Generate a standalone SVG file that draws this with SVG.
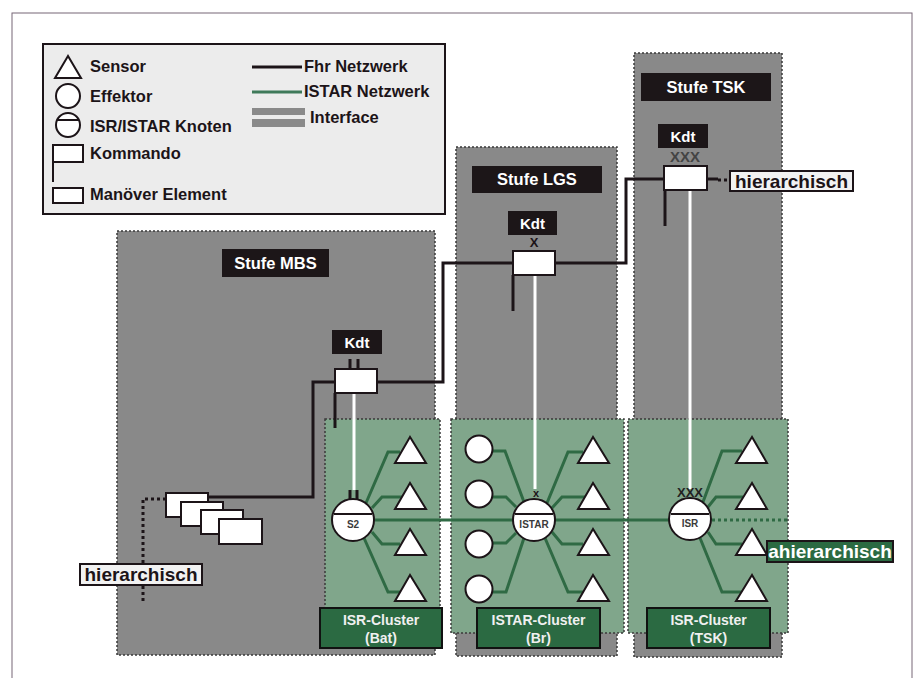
<svg xmlns="http://www.w3.org/2000/svg" width="915" height="678" viewBox="0 0 915 678">
<defs>
<style>
text{font-family:"Liberation Sans",Arial,sans-serif;font-weight:bold}
.panel{fill:#898989;stroke:#3a3a3a;stroke-width:1.5;stroke-dasharray:2 2}
.cluster{fill:#80a68b;stroke:#3a3a3a;stroke-width:1.5;stroke-dasharray:2 2}
.title{fill:#1c1618}
.tt{fill:#fff;font-size:16.5px;text-anchor:middle}
.kt{fill:#fff;font-size:15px;text-anchor:middle}
.fhr{fill:none;stroke:#1c1418;stroke-width:3}
.ifc{fill:none;stroke:#fff;stroke-width:3}
.net{fill:none;stroke:#2f6a44;stroke-width:3}
.sym{fill:#fff;stroke:#1c1418;stroke-width:2}
.leg{font-size:16.5px;fill:#1c1418}
.clab{fill:#2b6a42;stroke:#111;stroke-width:2}
.clt{fill:#f0f0f0;font-size:14px;text-anchor:middle}
.nl{fill:#3a3a3a;font-size:10px;text-anchor:middle}
.hb{fill:#f2f2f2;stroke:#1c1418;stroke-width:2}
.ht{font-size:19px;fill:#1c1418;text-anchor:middle}
.dot{fill:none;stroke:#1c1418;stroke-width:3;stroke-dasharray:3 3}
</style>
</defs>
<rect x="0" y="0" width="915" height="678" fill="#fff"/>
<rect x="12" y="13" width="900" height="700" fill="none" stroke="#776677" stroke-width="1"/>

<g id="legend">
<rect x="43" y="44" width="402" height="170" fill="#ececec" stroke="#1c1418" stroke-width="2"/>
<polygon class="sym" points="68,56 55,78 81,78"/>
<text class="leg" x="90" y="72">Sensor</text>
<circle class="sym" cx="68" cy="96" r="12"/>
<text class="leg" x="90" y="102">Effektor</text>
<circle class="sym" cx="68" cy="125" r="12"/>
<line x1="57" y1="120" x2="79" y2="120" stroke="#1c1418" stroke-width="2"/>
<text class="leg" x="90" y="132">ISR/ISTAR Knoten</text>
<rect class="sym" x="53" y="145" width="30" height="17"/>
<line x1="53" y1="162" x2="53" y2="182" stroke="#1c1418" stroke-width="2"/>
<text class="leg" x="90" y="159">Kommando</text>
<rect class="sym" x="53" y="188" width="30" height="15"/>
<text class="leg" x="90" y="200">Manöver Element</text>
<line x1="252" y1="67" x2="302" y2="67" stroke="#1c1418" stroke-width="3"/>
<text class="leg" x="304" y="72">Fhr Netzwerk</text>
<line x1="252" y1="92" x2="302" y2="92" stroke="#3f7a5a" stroke-width="3"/>
<text class="leg" x="304" y="97">ISTAR Netzwerk</text>
<rect x="252" y="108" width="53" height="7" fill="#8a8a8a"/>
<rect x="252" y="119" width="53" height="8" fill="#8a8a8a"/>
<text class="leg" x="310" y="123">Interface</text>
</g>

<g id="panel-mbs">
<rect class="panel" x="117" y="231" width="318" height="424"/>
<rect class="title" x="222" y="249" width="107" height="28"/>
<text class="tt" x="275.5" y="269">Stufe MBS</text>
</g>
<g id="panel-lgs">
<rect class="panel" x="456" y="147" width="161" height="509"/>
<rect class="title" x="472" y="166" width="130" height="27"/>
<text class="tt" x="537" y="185">Stufe LGS</text>
</g>
<g id="panel-tsk">
<rect class="panel" x="634" y="53" width="148" height="604"/>
<rect class="title" x="641" y="73" width="130" height="28"/>
<text class="tt" x="706" y="93">Stufe TSK</text>
</g>

<g id="cluster-bat">
<rect class="cluster" x="325" y="419" width="115" height="214"/>
</g>
<g id="cluster-istar">
<rect class="cluster" x="451" y="419" width="173" height="214"/>
</g>
<g id="cluster-tsk">
<rect class="cluster" x="628" y="419" width="160" height="214"/>
</g>

<g id="connectors">
<path class="fhr" d="M208 497 H313 V382 H335"/>
<path class="fhr" d="M377 382 H443 V263 H513"/>
<path class="fhr" d="M555 263 H626 V179 H664"/>
<path class="fhr" d="M707 179 H718"/>
<path class="fhr" d="M335 393 V428"/>
<path class="fhr" d="M513 275 V311"/>
<path class="fhr" d="M665 190 V226"/>
<path class="fhr" d="M350 359 V369 M358 359 V369" stroke-width="2.5"/>
<path class="fhr" d="M350 490 V500 M357 490 V500" stroke-width="2.5"/>
<path class="dot" d="M718 180 H730" stroke-width="2.5"/>
<path class="dot" d="M166 499 H143 V564 M143 586 V602" stroke-width="3"/>
<path class="ifc" d="M354 393 V490"/>
<path class="ifc" d="M535 275 V489"/>
<path class="ifc" d="M690 190 V489"/>
<path class="net" d="M375 520 H669"/>
<path class="net" d="M712 520 H790" stroke-dasharray="3 3"/>
<path class="net" d="M366 503 L388 452 H400 M372 508 L382 497 H402 M372 532 L382 544 H400 M364 538 L388 592 H400"/>
<path class="net" d="M492 451 H505 L524 502 M492 497 H506 L516 507 M492 543 H506 L516 533 M492 592 H506 L524 538"/>
<path class="net" d="M547 503 L568 452 H583 M552 508 L562 497 H585 M552 532 L562 544 H583 M545 538 L568 592 H583"/>
<path class="net" d="M703 502 L722 451 H742 M708 507 L716 497 H743 M708 532 L716 544 H742 M700 538 L722 592 H742"/>
</g>

<g id="kdt-mbs">
<rect class="title" x="332" y="330" width="50" height="24"/>
<text class="kt" x="357" y="348">Kdt</text>
<rect class="sym" x="335" y="369" width="42" height="24"/>
</g>
<g id="kdt-lgs">
<rect class="title" x="508" y="211" width="49" height="24"/>
<text class="kt" x="532.5" y="229">Kdt</text>
<text x="534" y="247" font-size="13" fill="#1c1418" text-anchor="middle">X</text>
<rect class="sym" x="513" y="251" width="42" height="24"/>
</g>
<g id="kdt-tsk">
<rect class="title" x="658" y="124" width="50" height="24"/>
<text class="kt" x="683" y="142">Kdt</text>
<text x="685" y="162" font-size="15" fill="#444" text-anchor="middle" font-weight="normal">XXX</text>
<rect class="sym" x="664" y="166" width="43" height="24"/>
</g>

<g id="maneuver">
<rect class="sym" x="166" y="493" width="42" height="24"/>
<rect class="sym" x="181" y="502" width="42" height="24"/>
<rect class="sym" x="201" y="510" width="42" height="24"/>
<rect class="sym" x="219" y="519" width="43" height="25"/>
</g>

<g id="node-s2">
<circle class="sym" cx="353" cy="520" r="21"/>
<line x1="334" y1="514" x2="372" y2="514" stroke="#1c1418" stroke-width="2"/>
<text class="nl" x="353" y="528">S2</text>
</g>
<g id="node-istar">
<circle class="sym" cx="534" cy="520" r="21"/>
<line x1="515" y1="514" x2="553" y2="514" stroke="#1c1418" stroke-width="2"/>
<text class="nl" x="534" y="528">ISTAR</text>
<text x="536" y="497" font-size="11" fill="#1c1418" text-anchor="middle">x</text>
</g>
<g id="node-isr">
<circle class="sym" cx="690" cy="519" r="21"/>
<line x1="671" y1="514" x2="709" y2="514" stroke="#1c1418" stroke-width="2"/>
<text class="nl" x="690" y="527">ISR</text>
<text x="690" y="497" font-size="13" fill="#222" text-anchor="middle" font-weight="normal">XXX</text>
</g>

<g id="sensors-bat">
<polygon class="sym" points="410,437 395,463 426,463"/>
<polygon class="sym" points="410,483 395,509 426,509"/>
<polygon class="sym" points="410,529 395,555 426,555"/>
<polygon class="sym" points="410,575 395,601 426,601"/>
</g>
<g id="effektors-istar">
<circle class="sym" cx="479" cy="449" r="13.5"/>
<circle class="sym" cx="479" cy="494" r="13.5"/>
<circle class="sym" cx="479" cy="544" r="13.5"/>
<circle class="sym" cx="479" cy="589" r="13.5"/>
</g>
<g id="sensors-istar">
<polygon class="sym" points="593,437 578,463 609,463"/>
<polygon class="sym" points="593,483 578,509 609,509"/>
<polygon class="sym" points="593,529 578,555 609,555"/>
<polygon class="sym" points="593,575 578,601 609,601"/>
</g>
<g id="sensors-tsk">
<polygon class="sym" points="752,437 736,463 767,463"/>
<polygon class="sym" points="752,483 736,509 767,509"/>
<polygon class="sym" points="752,529 736,555 767,555"/>
<polygon class="sym" points="752,575 736,601 767,601"/>
</g>

<g id="label-bat">
<rect class="clab" x="320" y="608" width="122" height="40"/>
<text class="clt" x="381" y="625">ISR-Cluster</text>
<text class="clt" x="381" y="643">(Bat)</text>
</g>
<g id="label-istar">
<rect class="clab" x="477" y="608" width="123" height="40"/>
<text class="clt" x="538.5" y="625">ISTAR-Cluster</text>
<text class="clt" x="538.5" y="643">(Br)</text>
</g>
<g id="label-tsk">
<rect class="clab" x="647" y="608" width="123" height="40"/>
<text class="clt" x="708.5" y="625">ISR-Cluster</text>
<text class="clt" x="708.5" y="643">(TSK)</text>
</g>

<g id="hier-right">
<rect class="hb" x="730" y="171" width="123" height="20"/>
<text class="ht" x="791.5" y="188">hierarchisch</text>
</g>
<g id="hier-left">
<rect class="hb" x="80" y="564" width="122" height="21"/>
<text class="ht" x="141" y="581">hierarchisch</text>
</g>
<g id="ahier">
<rect x="767" y="541" width="126" height="21" fill="#2b6a42" stroke="#1c1418" stroke-width="2"/>
<text x="830" y="558" font-size="19" fill="#fff" text-anchor="middle">ahierarchisch</text>
</g>
</svg>
